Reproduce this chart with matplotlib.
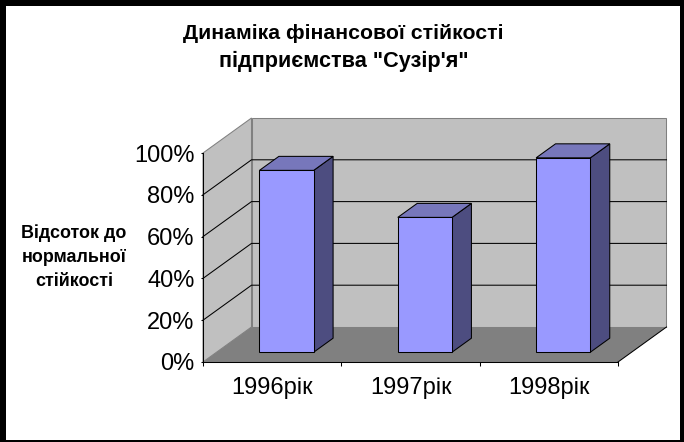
import matplotlib
matplotlib.use("Agg")
import matplotlib.pyplot as plt
from matplotlib.patches import Polygon, Rectangle

plt.rcParams["font.family"] = ["Liberation Sans", "DejaVu Sans"]

years = ["1996рік", "1997рік", "1998рік"]
values = [87, 64.5, 93]
y_ticks = [0, 20, 40, 60, 80, 100]
y_labels = ["0%", "20%", "40%", "60%", "80%", "100%"]

W, H = 684, 442
# front plane of the box in pixels
X0, X1, Y0, Y1 = 203, 618, 362, 153
# how far one unit of depth shifts things, in data units
DX = 48.5 / ((X1 - X0) / 3)
DY = 35 / ((Y0 - Y1) / 100)
LW = 0.75


def proj(x, v, d):
    return (x + d * DX, v + d * DY)


def face(ax, pts, color, edge="none", lw=0.0, z=1):
    ax.add_patch(Polygon([proj(*p) for p in pts], closed=True, facecolor=color,
                         edgecolor=edge, linewidth=lw, zorder=z, clip_on=False))


fig = plt.figure(figsize=(W / 100, H / 100), dpi=100, facecolor="black")
fig.add_artist(Rectangle((6 / W, 1 - 439.5 / H), 674 / W, 433.5 / H, zorder=-1,
                         transform=fig.transFigure, facecolor="white", edgecolor="none"))

ax = fig.add_axes([X0 / W, 1 - Y0 / H, (X1 - X0) / W, (Y0 - Y1) / H])
ax.set_xlim(0, 3)
ax.set_ylim(0, 100)
ax.patch.set_visible(False)

# walls and floor
face(ax, [(0, 0, 1), (3, 0, 1), (3, 100, 1), (0, 100, 1)], "#c0c0c0", "#808080", LW)
face(ax, [(0, 0, 0), (0, 0, 1), (0, 100, 1), (0, 100, 0)], "#c0c0c0", "#808080", LW)
face(ax, [(0, 0, 0), (3, 0, 0), (3, 0, 1), (0, 0, 1)], "#808080", z=1.5)

# gridlines run along the side wall and the back wall, the top edge stays grey
for v in y_ticks[1:-1]:
    pts = [proj(0, v, 0), proj(0, v, 1), proj(3, v, 1)]
    ax.plot(*zip(*pts), color="black", lw=LW, zorder=2, clip_on=False,
            solid_joinstyle="miter")
ax.plot(*zip(proj(3, 0, 0), proj(3, 0, 1)), color="black", lw=LW, zorder=2, clip_on=False)

# bars
bar_w = 0.392
d0, d1 = 0.28, 0.68
for i, val in enumerate(values):
    left = i + 0.31
    right = left + bar_w
    face(ax, [(right, 0, d0), (right, 0, d1), (right, val, d1), (right, val, d0)],
         "#4d4d80", "black", LW, z=3)
    face(ax, [(left, val, d0), (right, val, d0), (right, val, d1), (left, val, d1)],
         "#7777bb", "black", LW, z=3)
    x, y = proj(left, 0, d0)
    ax.bar(x, val, width=bar_w, bottom=y, align="edge", color="#9999ff",
           edgecolor="black", linewidth=LW, zorder=4, clip_on=False)

for side in ["top", "right"]:
    ax.spines[side].set_visible(False)
for side in ["left", "bottom"]:
    ax.spines[side].set_linewidth(LW)
    ax.spines[side].set_zorder(5)

ax.set_yticks(y_ticks)
ax.set_yticklabels(y_labels, fontsize=17, color="black")
ax.set_xticks([0, 1, 2, 3])
ax.set_xticklabels([])
ax.set_xticks([0.5, 1.5, 2.5], minor=True)
ax.set_xticklabels(years, minor=True, fontsize=17, color="black")
ax.tick_params(axis="x", which="major", length=3, width=LW, direction="out")
ax.tick_params(axis="x", which="minor", length=0, pad=10.5)
ax.tick_params(axis="y", length=1.5, width=LW, pad=4.5)

fig.text(343 / W, 1 - 33.5 / H, "Динаміка фінансової стійкості", ha="center", va="center",
         fontsize=15.3, fontweight="bold", color="black")
fig.text(344 / W, 1 - 61 / H, 'підприємства "Сузір\'я"', ha="center", va="center",
         fontsize=15.6, fontweight="bold", color="black")
for line, y in zip(["Відсоток до", "нормальної", "стійкості"], [233, 257, 281]):
    fig.text(74 / W, 1 - y / H, line, ha="center", va="center", fontsize=12.9,
             fontweight="bold", color="black")

fig.savefig("out.png", dpi=100, facecolor="black")
